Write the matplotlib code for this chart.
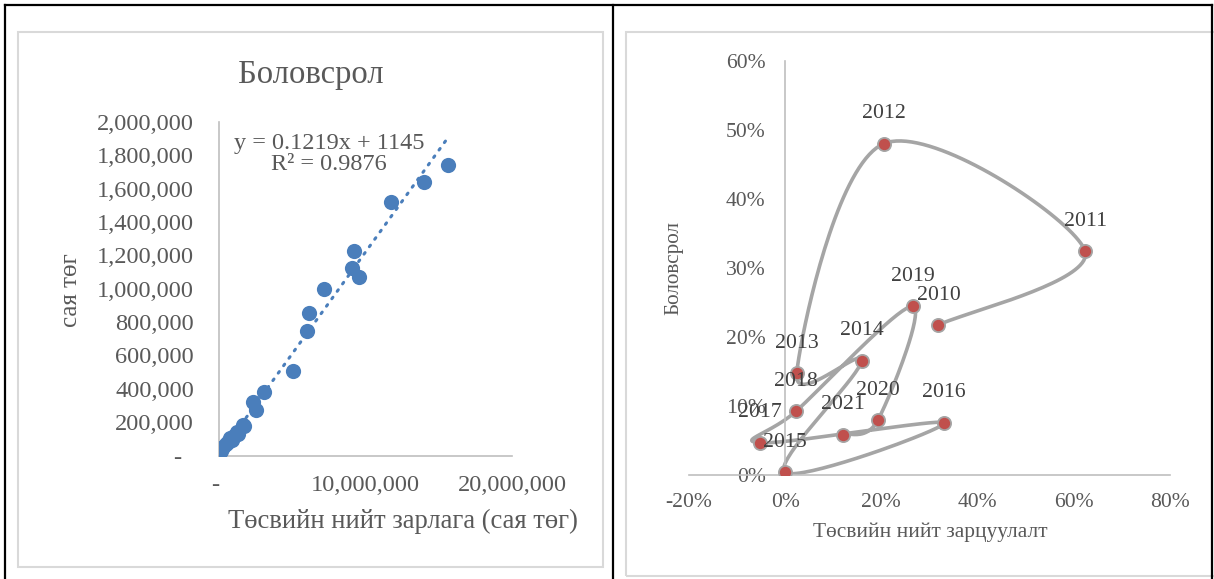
import matplotlib
matplotlib.use("Agg")
import matplotlib.pyplot as plt
from matplotlib.lines import Line2D
from matplotlib.patches import Rectangle
from matplotlib.ticker import FuncFormatter
import numpy as np

W, H = 1214, 579

# left chart: education spending vs total budget spending (сая төг)
total_spend = [20e3, 150e3, 290e3, 450e3, 600e3, 750e3, 870e3, 1.00e6, 1.21e6,
               1.28e6, 1.66e6, 1.73e6, 2.34e6, 2.50e6, 3.09e6, 5.07e6, 6.03e6,
               6.16e6, 7.17e6, 9.06e6, 9.24e6, 9.56e6, 11.72e6, 14.00e6, 15.65e6]
edu_spend = [12e3, 28e3, 53e3, 66e3, 80e3, 105e3, 90e3, 118e3, 143e3,
             130e3, 183e3, 177e3, 319e3, 273e3, 383e3, 507e3, 748e3,
             856e3, 998e3, 1123e3, 1226e3, 1072e3, 1522e3, 1642e3, 1742e3]
trend_slope = 0.1219
trend_icept = 1145

# right chart: growth rates by year
years = [2010, 2011, 2012, 2013, 2014, 2015, 2016, 2017, 2018, 2019, 2020, 2021]
budget_growth = [0.319, 0.624, 0.205, 0.024, 0.159, 0.000, 0.331, -0.052, 0.023, 0.265, 0.193, 0.121]
edu_growth = [0.217, 0.324, 0.480, 0.147, 0.165, 0.003, 0.075, 0.046, 0.092, 0.244, 0.079, 0.058]

GREY_TXT = "#595959"
plt.rcParams["font.family"] = ["Liberation Serif", "DejaVu Serif"]


def fig_rect(l, t, r, b):
    # pixel box (top-left origin) -> figure fraction rect
    return [l / W, 1 - b / H, (r - l) / W, (b - t) / H]


def fx(x):
    return x / W


def fy(y):
    return 1 - y / H


def smooth_path(xs, ys, xlim, ylim, wpx, hpx, n=40):
    # Excel-like smoothed line: Catmull-Rom -> Bezier in pixel space
    px = (np.array(xs) - xlim[0]) / (xlim[1] - xlim[0]) * wpx
    py = (np.array(ys) - ylim[0]) / (ylim[1] - ylim[0]) * hpx
    pts = np.column_stack([px, py])
    out = []
    t = np.linspace(0, 1, n)[:, None]
    for i in range(len(pts) - 1):
        p0 = pts[i - 1] if i > 0 else pts[i]
        p1 = pts[i]
        p2 = pts[i + 1]
        p3 = pts[i + 2] if i + 2 < len(pts) else pts[i + 1]
        c1 = p1 + (p2 - p0) / 6
        c2 = p2 - (p3 - p1) / 6
        seg = (1 - t) ** 3 * p1 + 3 * (1 - t) ** 2 * t * c1 + 3 * (1 - t) * t ** 2 * c2 + t ** 3 * p2
        out.append(seg if i == 0 else seg[1:])
    out = np.vstack(out)
    sx = out[:, 0] / wpx * (xlim[1] - xlim[0]) + xlim[0]
    sy = out[:, 1] / hpx * (ylim[1] - ylim[0]) + ylim[0]
    return sx, sy


fig = plt.figure(figsize=(W / 100, H / 100), dpi=100)

# table borders
for (x0, y0, x1, y1) in [(5, 5, 1212, 5), (5, 5, 5, 579), (613, 5, 613, 579), (1212, 5, 1212, 579)]:
    fig.add_artist(Line2D([fx(x0), fx(x1)], [fy(y0), fy(y1)], color="black", lw=1.6))

# chart frames
for (l, t, r, b) in [(18, 32, 603, 567), (626, 32, 1230, 576)]:
    fig.add_artist(Rectangle((fx(l), fy(b)), (r - l) / W, (b - t) / H,
                             fill=False, edgecolor="#D9D9D9", lw=1.5))

# ---------- left chart ----------
axL = fig.add_axes(fig_rect(219, 122, 512, 455.5))
axL.scatter(total_spend, edu_spend, s=120, color="#4A7EBB", zorder=3, linewidths=0)
tx = np.array([min(total_spend), max(total_spend)])
axL.plot(tx, trend_slope * tx + trend_icept, color="#4A7EBB", lw=2.2,
         linestyle=(0, (0.6, 2.4)), dash_capstyle="round", zorder=2)
axL.set_xlim(0, 20e6)
axL.set_ylim(0, 2e6)
axL.set_xticks([0, 10e6, 20e6])
axL.set_yticks(np.arange(0, 2e6 + 1, 200e3))
axL.xaxis.set_major_formatter(FuncFormatter(lambda v, p: "- " if v == 0 else f"{v:,.0f}"))
axL.yaxis.set_major_formatter(FuncFormatter(lambda v, p: "-  " if v == 0 else f"{v:,.0f}"))
axL.tick_params(length=0, labelsize=17.6, colors=GREY_TXT)
axL.tick_params(axis="y", pad=18)
axL.tick_params(axis="x", pad=14)
for s in ["top", "right"]:
    axL.spines[s].set_visible(False)
for s in ["left", "bottom"]:
    axL.spines[s].set_color("#BFBFBF")
    axL.spines[s].set_linewidth(1.2)
axL.patch.set_alpha(0)
axL.text(0.375, 0.905, f"y = {trend_slope}x + {trend_icept}\nR² = 0.9876",
         transform=axL.transAxes, ha="center", va="center", fontsize=17.5,
         color=GREY_TXT, linespacing=1.0)

fig.text(fx(311), fy(75), "Боловсрол", ha="center", va="center", fontsize=23.5, color=GREY_TXT)
fig.text(fx(403), fy(521), "Төсвийн нийт зарлага (сая төг)", ha="center", va="center",
         fontsize=19.2, color=GREY_TXT)
fig.text(fx(71), fy(290), "сая төг", ha="center", va="center", rotation=90,
         fontsize=18, color=GREY_TXT)

# ---------- right chart ----------
r_l, r_t, r_r, r_b = 689, 61, 1169.7, 474.5
axR = fig.add_axes(fig_rect(r_l, r_t, r_r, r_b))
xlimR, ylimR = (-0.2, 0.8), (0, 0.6)
sx, sy = smooth_path(budget_growth, edu_growth, xlimR, ylimR, r_r - r_l, r_b - r_t)
axR.plot(sx, sy, color="#A5A5A5", lw=2.6, zorder=2, solid_capstyle="round")
axR.plot(budget_growth, edu_growth, linestyle="none", marker="o", markersize=9.5,
         markerfacecolor="#C0504D", markeredgecolor="#A5A5A5", markeredgewidth=1.3, zorder=3)
for yr, bx, ey in zip(years, budget_growth, edu_growth):
    axR.annotate(str(yr), (bx, ey), xytext=(0, 21.5), textcoords="offset points",
                 ha="center", va="center", fontsize=15.7, color="#404040", zorder=4)
axR.set_xlim(*xlimR)
axR.set_ylim(*ylimR)
axR.set_xticks(np.arange(-0.2, 0.81, 0.2))
axR.set_yticks(np.arange(0, 0.61, 0.1))
pct = FuncFormatter(lambda v, p: f"{int(round(v * 100))}%")
axR.xaxis.set_major_formatter(pct)
axR.yaxis.set_major_formatter(pct)
axR.tick_params(length=0, labelsize=15.6, colors=GREY_TXT)
axR.tick_params(axis="y", pad=14)
axR.tick_params(axis="x", pad=13)
axR.spines["left"].set_position(("data", 0))
for s in ["top", "right"]:
    axR.spines[s].set_visible(False)
for s in ["left", "bottom"]:
    axR.spines[s].set_color("#BFBFBF")
    axR.spines[s].set_linewidth(1.2)
axR.patch.set_alpha(0)

fig.text(fx(930.5), fy(532), "Төсвийн нийт зарцуулалт", ha="center", va="center",
         fontsize=15.4, color=GREY_TXT)
fig.text(fx(674), fy(268), "Боловсрол", ha="center", va="center", rotation=90,
         fontsize=15.2, color=GREY_TXT)

fig.savefig("out.png", dpi=100)
